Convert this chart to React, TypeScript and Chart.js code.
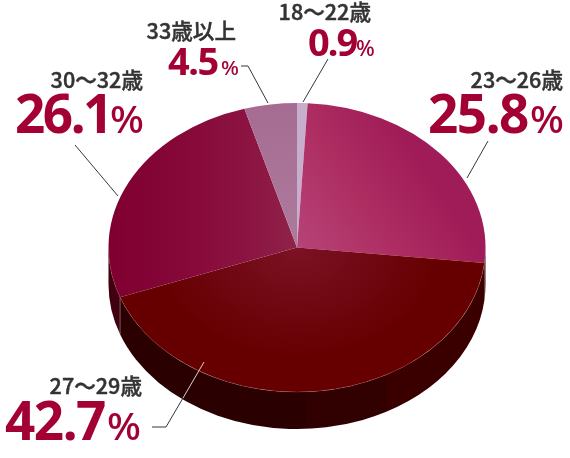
import { useEffect, useRef } from "react";
import { Chart, registerables } from "chart.js";

Chart.register(...registerables);

const categories = ["18〜22歳", "23〜26歳", "27〜29歳", "30〜32歳", "33歳以上"];
const values = [0.9, 25.8, 42.7, 26.1, 4.5];

const wallColors = ["#3A0000", "#3E0012", "#2A0000", "#40000F", "#40000F"];

const CX = 297;
const CY = 247.5;
const SQUASH = 144.5 / 188.5;
const DEPTH = 37;

type Caption = {
  labelRight: number; labelY: number; labelSize: number;
  valueX: number; valueY: number; valueSize: number; spacing: number;
  pctX: number; pctSize: number;
};
const captions: Caption[] = [
  { labelRight: 371, labelY: 20, labelSize: 21.6, valueX: 308, valueY: 56, valueSize: 38, spacing: -2, pctX: 356, pctSize: 21 },
  { labelRight: 563, labelY: 88, labelSize: 21.6, valueX: 428, valueY: 133, valueSize: 53, spacing: -1.5, pctX: 530, pctSize: 38 },
  { labelRight: 142, labelY: 394, labelSize: 21.6, valueX: 5, valueY: 440, valueSize: 53, spacing: -1.5, pctX: 107, pctSize: 38 },
  { labelRight: 143, labelY: 88, labelSize: 21.6, valueX: 15, valueY: 133, valueSize: 53, spacing: -2.5, pctX: 110, pctSize: 38 },
  { labelRight: 236, labelY: 39, labelSize: 21.6, valueX: 168, valueY: 75, valueSize: 38, spacing: -1.5, pctX: 221, pctSize: 20 },
];

const leaders: { points: number[][]; color: string }[] = [
  { points: [[328, 59], [303, 102]], color: "#33363f" },
  { points: [[488, 141], [467, 178]], color: "#33363f" },
  { points: [[204, 362], [183, 398]], color: "#d9cfcf" },
  { points: [[183, 398], [166, 427], [152, 427]], color: "#33363f" },
  { points: [[75, 145], [118, 196]], color: "#33363f" },
  { points: [[241, 66], [248, 66], [268, 103]], color: "#33363f" },
];

const pieFlatten = {
  id: "pieFlatten",
  beforeDatasetsDraw(chart: any) {
    const ctx: CanvasRenderingContext2D = chart.ctx;
    const arcs = chart.getDatasetMeta(0).data;
    arcs.forEach((arc: any, i: number) => {
      const { startAngle, endAngle, outerRadius, x } = arc.getProps(["startAngle", "endAngle", "outerRadius", "x"], true);
      const a0 = Math.max(startAngle, 0);
      const a1 = Math.min(endAngle, Math.PI);
      if (a1 <= a0) return;
      const ry = outerRadius * SQUASH;
      ctx.beginPath();
      ctx.ellipse(x, CY, outerRadius, ry, 0, a0, a1);
      ctx.ellipse(x, CY + DEPTH, outerRadius, ry, 0, a1, a0, true);
      ctx.closePath();
      if (i === 2) {
        const band = ctx.createLinearGradient(x, 0, x + outerRadius, 0);
        band.addColorStop(0, "#2A0000");
        band.addColorStop(0.053, "#2A0000");
        band.addColorStop(0.053, "#310000");
        band.addColorStop(0.477, "#310000");
        band.addColorStop(0.477, "#3A0000");
        band.addColorStop(1, "#3A0000");
        ctx.fillStyle = band;
      } else {
        ctx.fillStyle = wallColors[i];
      }
      ctx.fill();
      if (i === 3) {
        const ex = x + outerRadius * Math.cos(a0);
        const ey = CY + ry * Math.sin(a0);
        ctx.strokeStyle = "rgba(225,215,220,0.55)";
        ctx.lineWidth = 0.7;
        ctx.beginPath();
        ctx.moveTo(ex, ey);
        ctx.lineTo(ex, ey + DEPTH);
        ctx.stroke();
      }
    });
    ctx.save();
    ctx.translate(0, CY);
    ctx.scale(1, SQUASH);
    ctx.translate(0, -arcs[0].y);
  },
  afterDatasetsDraw(chart: any) {
    const ctx: CanvasRenderingContext2D = chart.ctx;
    ctx.restore();
    const arc = chart.getDatasetMeta(0).data[0];
    ctx.strokeStyle = "rgba(215,120,120,0.35)";
    ctx.lineWidth = 0.6;
    ctx.beginPath();
    ctx.ellipse(arc.x, CY, arc.outerRadius, arc.outerRadius * SQUASH, 0, 0, Math.PI);
    ctx.stroke();
  },
  afterDraw(chart: any) {
    const ctx: CanvasRenderingContext2D = chart.ctx;
    ctx.save();
    ctx.lineWidth = 1;
    leaders.forEach(({ points, color }) => {
      ctx.strokeStyle = color;
      ctx.beginPath();
      points.forEach(([px, py], i) => (i ? ctx.lineTo(px, py) : ctx.moveTo(px, py)));
      ctx.stroke();
    });
    ctx.textBaseline = "alphabetic";
    categories.forEach((label, i) => {
      const c = captions[i];
      (ctx as any).letterSpacing = "0px";
      ctx.textAlign = "right";
      ctx.fillStyle = "#333333";
      ctx.strokeStyle = "#333333";
      ctx.lineWidth = 0.45;
      ctx.font = `500 ${c.labelSize}px "Noto Sans CJK JP"`;
      ctx.fillText(label, c.labelRight, c.labelY);
      ctx.strokeText(label, c.labelRight, c.labelY);
      ctx.textAlign = "left";
      ctx.fillStyle = "#A30034";
      ctx.font = `700 ${c.valueSize}px "Noto Sans"`;
      (ctx as any).letterSpacing = `${c.spacing}px`;
      ctx.fillText(values[i].toFixed(1), c.valueX, c.valueY);
      (ctx as any).letterSpacing = "0px";
      ctx.font = `500 ${c.pctSize}px "Noto Sans"`;
      ctx.save();
      ctx.translate(c.pctX, c.valueY);
      ctx.scale(1.05, 1);
      ctx.fillText("%", 0, 0);
      ctx.restore();
    });
    ctx.restore();
  },
};

function stops(g: CanvasGradient, list: [number, string][]) {
  list.forEach(([at, color]) => g.addColorStop(at, color));
  return g;
}

export default function App() {
  const ref = useRef<HTMLCanvasElement>(null);
  useEffect(() => {
    const canvas = ref.current!;
    const ctx = canvas.getContext("2d")!;
    const cy = 229;
    const fills = [
      "#C6AECC",
      stops(ctx.createLinearGradient(290, 250, 486, 150), [[0, "#B8477C"], [0.45, "#AE2E62"], [0.8, "#A01C58"], [1, "#A01C58"]]),
      stops(ctx.createRadialGradient(CX, cy, 0, CX, cy, 189), [[0, "#7C1224"], [0.4, "#6F0812"], [0.75, "#660000"], [1, "#660000"]]),
      stops(ctx.createLinearGradient(CX, 0, 108, 0), [[0, "#8F2349"], [0.25, "#8C1442"], [0.6, "#860838"], [1, "#7F0030"]]),
      stops(ctx.createRadialGradient(CX, cy, 0, CX, cy, 189), [[0, "#AD7B9C"], [1, "#A66C92"]]),
    ];
    const chart = new Chart(canvas, {
      type: "pie",
      data: {
        labels: categories,
        datasets: [{ data: values, backgroundColor: fills, borderWidth: 0, clip: false } as any],
      },
      options: {
        responsive: false,
        animation: false,
        layout: { padding: { left: 108.5, right: 84.5, top: 40.5, bottom: 40.5 } },
        plugins: { legend: { display: false }, tooltip: { enabled: false } },
      },
      plugins: [pieFlatten],
    });
    return () => chart.destroy();
  }, []);
  return (
    <div style={{ position: "absolute", left: 0, top: 0, width: 570, height: 458, background: "#fff" }}>
      <canvas ref={ref} width={570} height={458} style={{ display: "block" }} />
    </div>
  );
}
